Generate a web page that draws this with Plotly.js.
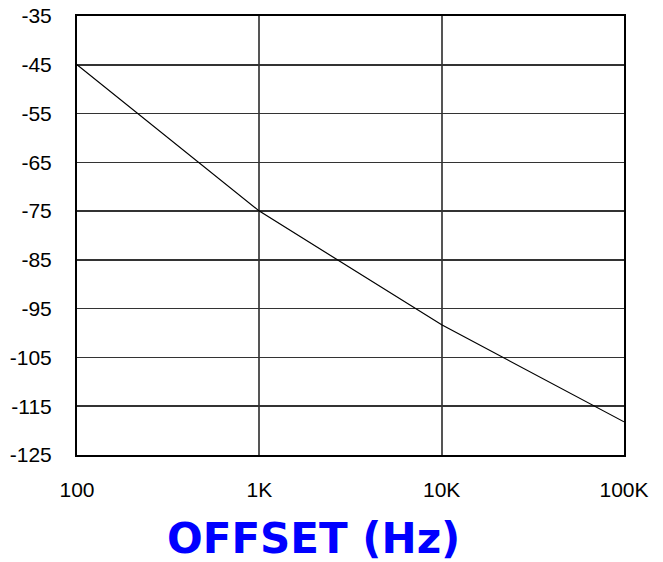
<!DOCTYPE html>
<html>
<head>
<meta charset="utf-8">
<script src="https://cdn.plot.ly/plotly-3.0.1.min.js"></script>
<style>html,body{margin:0;padding:0;background:#fff;}#chart{width:663px;height:562px;}</style>
</head>
<body>
<div id="chart"></div>
<script>
const offsetHz = [100, 1000, 10000, 100000];
const noiseDb = [-45, -75, -98.3, -118.2];
const xTickVals = [100, 1000, 10000, 100000];
const xTickText = ['100', '1K', '10K', '100K'];
const yTickVals = [-125, -115, -105, -95, -85, -75, -65, -55, -45, -35];
const yTickText = ['-125', '-115', '-105', '-95', '-85', '-75', '-65', '-55', '-45', '-35'];
const xTitle = 'OFFSET (Hz)';

const trace = {
  x: offsetHz, y: noiseDb, type: 'scatter', mode: 'lines',
  line: {color: '#000', width: 1.2}, hoverinfo: 'none'
};
const layout = {
  width: 663, height: 562,
  margin: {l: 77, r: 39, t: 16, b: 107},
  paper_bgcolor: '#fff', plot_bgcolor: '#fff',
  showlegend: false,
  font: {family: '"Liberation Sans", Arial, sans-serif', size: 21, color: '#000'},
  xaxis: {
    type: 'log', range: [2, 5],
    tickvals: xTickVals, ticktext: xTickText,
    showgrid: true, gridcolor: '#555', gridwidth: 2,
    showline: true, linecolor: '#000', linewidth: 2, mirror: true,
    ticks: '', ticklabelstandoff: 15, zeroline: false
  },
  yaxis: {
    range: [-125, -35], tickvals: yTickVals, ticktext: yTickText,
    showgrid: true, gridcolor: '#333', gridwidth: 1.5,
    showline: true, linecolor: '#000', linewidth: 2, mirror: true,
    ticks: '', ticklabelstandoff: 19, zeroline: false
  },
  annotations: [{
    text: '<b>' + xTitle + '</b>', xref: 'paper', yref: 'paper',
    x: 0.433, y: -0.19, xanchor: 'center', yanchor: 'middle', showarrow: false,
    font: {family: '"DejaVu Sans", sans-serif', size: 42, color: '#0000ff'}
  }]
};
Plotly.newPlot('chart', [trace], layout, {staticPlot: true});
</script>
</body>
</html>
